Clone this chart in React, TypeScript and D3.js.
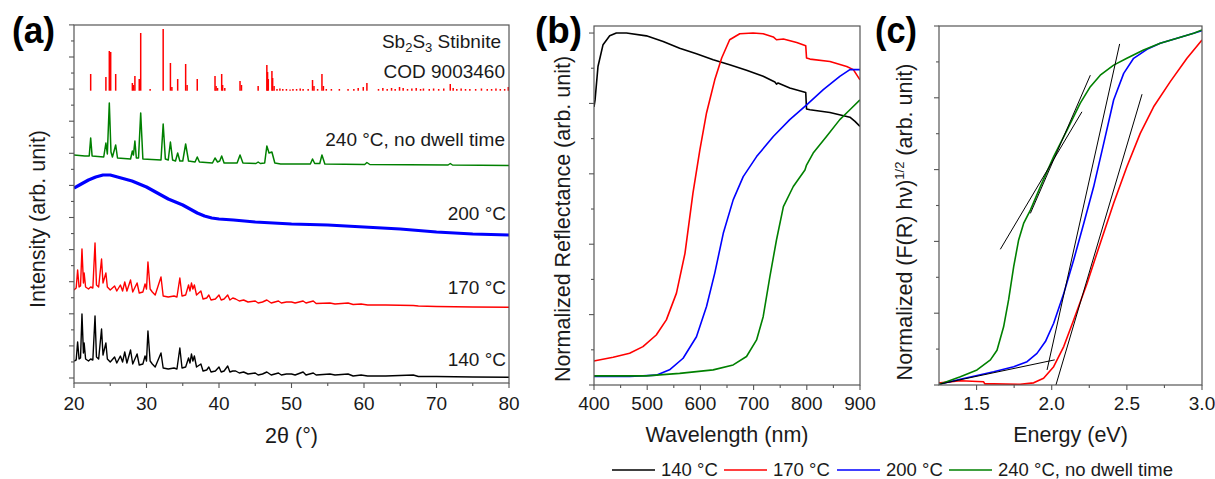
import React from "react";
import * as d3 from "d3";

const FONT = "'Liberation Sans', Arial, Helvetica, sans-serif";
const TXT = "#1a1a1a";
const AXC = "#555";

// ---------- Series meta ----------
const seriesNames = ["140 °C", "170 °C", "200 °C", "240 °C, no dwell time"];
const seriesColors = ["#000000", "#ff0000", "#0000ff", "#008000"];

// ---------- Panel (a): XRD (2θ in °, stacked intensity in arb. units) ----------
const xrd140: [number, number][] = [
  [20.0, 22], [20.3, 23], [20.5, 41], [20.7, 24], [20.9, 25], [21.1, 69], [21.3, 30], [21.4, 40], [21.6, 24],
  [22.0, 22], [22.3, 24], [22.6, 23], [22.9, 67], [23.1, 26], [23.4, 24], [23.8, 54], [24.0, 28], [24.4, 40],
  [24.6, 24], [25.0, 21], [25.6, 26], [25.9, 20], [26.4, 27], [26.7, 21], [27.0, 31], [27.3, 20], [27.8, 33],
  [28.1, 19], [28.7, 29], [29.0, 18], [29.5, 19], [29.8, 27], [30.0, 22], [30.2, 52], [30.5, 22], [30.8, 19],
  [31.2, 16], [32.0, 30], [32.3, 15], [33.0, 14], [33.8, 15], [34.2, 14], [34.6, 35], [34.9, 15], [35.4, 16],
  [35.8, 25], [36.0, 20], [36.2, 29], [36.4, 22], [36.6, 27], [36.9, 16], [37.5, 19], [37.8, 12], [38.3, 13],
  [38.6, 16], [38.9, 11], [39.5, 12], [40.0, 16], [40.3, 11], [40.7, 12], [41.2, 17], [41.5, 11], [41.9, 12],
  [42.3, 12], [42.8, 10], [43.4, 11], [44.0, 9], [45.0, 10], [45.4, 8], [46.0, 9], [46.6, 11], [47.2, 8],
  [48.2, 10], [48.6, 8], [49.3, 9], [50.0, 9], [50.5, 8], [51.6, 11], [52.0, 8], [53.0, 10], [53.4, 8],
  [55.3, 9], [56.0, 8], [57.8, 9], [58.5, 7], [59.6, 8], [60.5, 7], [63.0, 7], [66.8, 8], [67.5, 6.5],
  [70.0, 6.5], [75.0, 6], [80.0, 5.7],
];

const xrd170: [number, number][] = [
  [20.0, 93], [20.3, 95], [20.5, 113], [20.7, 96], [20.9, 97], [21.1, 134], [21.3, 100], [21.4, 110], [21.6, 96],
  [22.0, 94], [22.3, 96], [22.6, 95], [22.9, 140], [23.1, 98], [23.4, 96], [23.8, 124], [24.0, 100], [24.4, 110],
  [24.6, 96], [25.0, 93], [25.6, 97], [25.9, 92], [26.4, 98], [26.7, 92], [27.0, 101], [27.3, 92], [27.8, 103],
  [28.1, 91], [28.7, 100], [29.0, 90], [29.5, 91], [29.8, 99], [30.0, 94], [30.2, 121], [30.5, 94], [30.8, 91],
  [31.2, 88], [32.0, 106], [32.3, 87], [33.0, 86], [33.8, 87], [34.2, 86], [34.6, 105], [34.9, 87], [35.4, 88],
  [35.8, 98], [36.0, 92], [36.2, 100], [36.4, 94], [36.6, 98], [36.9, 88], [37.5, 92], [37.8, 84], [38.3, 85],
  [38.6, 88], [38.9, 83], [39.5, 84], [40.0, 88], [40.3, 83], [40.7, 84], [41.2, 88], [41.5, 83], [41.9, 85],
  [42.3, 84], [42.8, 82], [43.4, 83], [44.0, 81], [45.0, 82], [45.4, 80], [46.0, 81], [46.6, 83], [47.2, 80],
  [48.2, 82], [48.6, 80], [49.3, 81], [50.0, 81], [50.5, 80], [51.6, 82], [52.0, 80], [53.0, 82], [53.4, 79.5],
  [55.3, 80], [56.0, 79], [57.8, 80], [58.5, 78.5], [59.6, 79], [60.5, 78], [63.0, 78], [66.8, 77.5], [67.5, 77],
  [70.0, 76.5], [75.0, 76], [80.0, 75.7],
];

const xrd200: [number, number][] = [
  [20, 195], [21, 199], [22, 203], [23, 206], [24, 208], [25, 208], [26, 206], [27, 204], [28, 202], [29, 199],
  [30, 196], [31, 192], [32, 188], [33, 184], [34, 181], [35, 178], [36, 174], [37, 170], [38, 167], [39, 165],
  [40, 164], [42, 163], [45, 161], [50, 159], [55, 158], [60, 156], [65, 154], [70, 151], [75, 149], [80, 148],
];

const xrd240: [number, number][] = [
  [20.0, 228], [21.5, 227], [22.1, 227], [22.3, 245], [22.5, 227], [24.1, 226], [24.4, 240], [24.6, 229],
  [24.87, 280], [25.1, 231], [25.3, 226], [25.75, 238], [26.0, 225], [27.8, 224], [28.05, 232], [28.2, 228],
  [28.4, 242], [28.6, 225], [28.9, 225], [29.2, 270], [29.5, 224], [32.0, 223], [32.3, 259], [32.6, 224],
  [33.0, 223], [33.3, 241], [33.6, 223], [34.0, 222], [34.3, 230], [34.6, 222], [35.0, 222], [35.4, 239],
  [35.8, 222], [36.7, 221], [37.0, 226], [37.3, 221], [39.1, 220], [39.45, 225], [39.8, 221], [40.1, 222],
  [40.37, 227], [40.7, 220], [42.5, 220], [42.9, 228], [43.3, 220], [45.1, 219.5], [45.4, 221], [45.7, 219.5],
  [46.3, 220], [46.6, 237], [46.9, 230], [47.3, 231], [47.7, 220], [48.5, 219], [52.6, 219], [52.9, 224],
  [53.2, 219.5], [53.9, 219.5], [54.2, 228], [54.6, 219], [60.1, 218.5], [60.4, 220.5], [60.8, 218.5],
  [71.6, 218], [71.9, 219.5], [72.2, 218], [80.0, 217.5],
];

// Reference pattern Sb2S3 stibnite, COD 9003460: [2θ, top of stick]
const codBase = 292.3;
const codSticks: [number, number][] = [
  [22.3, 309], [24.4, 306], [24.87, 332], [25.06, 331], [25.75, 309], [28.05, 300], [28.2, 298], [28.4, 307],
  [29.0, 304], [29.2, 350], [30.5, 294], [32.3, 354], [33.3, 320], [33.5, 296], [34.3, 304], [35.4, 319],
  [35.6, 298], [37.0, 304], [39.45, 307], [39.6, 297], [39.8, 295], [40.37, 309], [40.5, 298], [40.8, 295],
  [42.9, 302], [43.1, 298], [45.4, 297], [46.6, 318], [46.7, 311], [46.8, 304], [47.3, 312], [47.4, 305],
  [47.6, 297], [48.0, 294], [48.4, 294.5], [48.8, 294], [49.3, 294], [49.8, 293.5], [50.2, 294], [50.7, 294],
  [51.2, 294.5], [51.6, 294], [52.3, 294], [52.9, 303], [53.1, 297], [53.6, 294], [54.2, 309], [54.4, 297],
  [54.8, 294], [55.5, 294], [56.6, 294], [57.8, 294], [58.6, 294], [59.2, 295], [59.9, 296], [60.4, 300],
  [62.0, 294], [62.6, 295], [63.2, 294], [63.8, 295], [64.3, 294], [64.9, 296], [65.4, 295], [66.0, 294],
  [66.6, 294.5], [67.2, 295], [67.8, 294], [68.2, 294.5], [69.0, 294], [69.6, 294.5], [70.3, 294], [71.0, 294.5],
  [71.9, 299], [72.3, 295], [72.8, 294], [73.4, 294.5], [74.0, 294], [74.6, 294], [75.4, 294], [76.2, 294.5],
  [77.0, 294], [77.6, 294], [78.2, 294.5], [78.8, 294], [79.4, 294], [79.9, 296],
];

const xrdXTicks = [20, 30, 40, 50, 60, 70, 80];
const xrdXMinor = [25, 35, 45, 55, 65, 75];

// ---------- Panel (b): Reflectance ----------
const refl140: [number, number][] = [
  [400, 0.79], [402, 0.81], [407.5, 0.905], [417, 0.967], [429.5, 0.992], [442, 1.0], [461, 1.0], [498.5, 0.992],
  [530, 0.976], [561, 0.957], [592.6, 0.941], [624, 0.924], [655, 0.91], [686.7, 0.894], [718, 0.877],
  [740, 0.861], [743, 0.855], [746, 0.858], [768, 0.844], [798, 0.831], [799.5, 0.784], [806, 0.782],
  [843.5, 0.774], [881, 0.761], [890.6, 0.749], [900, 0.735],
];
const refl170: [number, number][] = [
  [400, 0.068], [402, 0.069], [436, 0.079], [467, 0.09], [492, 0.109], [517, 0.142], [536, 0.185], [555, 0.261],
  [571, 0.374], [586, 0.545], [599, 0.668], [611.5, 0.773], [627, 0.867], [640, 0.929], [655, 0.981],
  [674, 0.998], [699, 1.0], [718, 0.998], [737, 0.989], [743, 0.981], [756, 0.983], [781, 0.973], [798, 0.964],
  [799.5, 0.929], [806, 0.926], [843.5, 0.919], [875, 0.905], [887.5, 0.896], [900, 0.867],
];
const refl200: [number, number][] = [
  [400, 0.024], [467, 0.024], [517, 0.028], [542, 0.043], [567.5, 0.076], [592.6, 0.137], [611.5, 0.223],
  [627, 0.318], [643, 0.431], [661.6, 0.526], [680.5, 0.592], [705.6, 0.649], [737, 0.706], [768, 0.754],
  [799.7, 0.796], [831, 0.839], [862, 0.877], [881, 0.896], [900, 0.896],
];
const refl240: [number, number][] = [
  [400, 0.026], [498, 0.026], [561, 0.033], [624, 0.043], [661.6, 0.057], [686.7, 0.081], [705.6, 0.128],
  [718, 0.194], [730.6, 0.308], [743, 0.412], [756, 0.507], [774.6, 0.564], [796.5, 0.611], [799.5, 0.625],
  [812, 0.659], [837, 0.706], [862, 0.754], [881, 0.782], [900, 0.81],
];
const reflXTicks = [400, 500, 600, 700, 800, 900];
const reflXMinor = [450, 550, 650, 750, 850];
const reflYTicks = [0, 0.2, 0.4, 0.6, 0.8, 1.0];
const reflYMinor = [0.1, 0.3, 0.5, 0.7, 0.9];

// ---------- Panel (c): Tauc plot ----------
const tauc170: [number, number][] = [
  [1.25, 0.006], [1.259, 0.006], [1.392, 0.012], [1.547, 0.009], [1.555, 0.003], [1.614, 0.003], [1.79, 0.002],
  [1.88, 0.006], [1.946, 0.019], [2.013, 0.051], [2.08, 0.107], [2.146, 0.181], [2.235, 0.283], [2.323, 0.395],
  [2.412, 0.506], [2.5, 0.608], [2.589, 0.701], [2.678, 0.775], [2.789, 0.845], [2.9, 0.91], [3.0, 0.961],
];
const tauc200: [number, number][] = [
  [1.25, 0.002], [1.259, 0.003], [1.392, 0.016], [1.614, 0.037], [1.747, 0.051], [1.836, 0.065], [1.902, 0.088],
  [1.958, 0.121], [2.013, 0.172], [2.08, 0.255], [2.146, 0.348], [2.213, 0.45], [2.279, 0.552], [2.346, 0.673],
  [2.412, 0.794], [2.479, 0.868], [2.545, 0.91], [2.634, 0.935], [2.722, 0.952], [2.834, 0.966], [3.0, 0.987],
];
const tauc240: [number, number][] = [
  [1.25, 0.002], [1.259, 0.003], [1.392, 0.023], [1.503, 0.042], [1.592, 0.07], [1.636, 0.097], [1.68, 0.162],
  [1.713, 0.237], [1.747, 0.33], [1.78, 0.404], [1.813, 0.45], [1.858, 0.487], [1.924, 0.552], [2.013, 0.636],
  [2.102, 0.71], [2.19, 0.785], [2.257, 0.831], [2.323, 0.863], [2.412, 0.891], [2.5, 0.91], [2.611, 0.933],
  [2.722, 0.952], [2.834, 0.966], [2.945, 0.98], [3.0, 0.989],
];
const taucTangents: [number, number][][] = [
  [[1.658, 0.378], [2.201, 0.761]],
  [[1.858, 0.478], [2.257, 0.863]],
  [[1.26, 0.003], [2.02, 0.07]],
  [[1.969, 0.042], [2.452, 0.95]],
  [[2.028, 0.0], [2.601, 0.81]],
];
const taucXTicks = [1.5, 2.0, 2.5, 3.0];
const taucXMinor = [1.75, 2.25, 2.75];
const taucYTicks = [0, 0.2, 0.4, 0.6, 0.8, 1.0];
const taucYMinor = [0.1, 0.3, 0.5, 0.7, 0.9];

// ---------- Layout ----------
const W = 1215;
const H = 479;
const PA = { l: 74, r: 509, t: 25, b: 383 };
const PB = { l: 594, r: 860, t: 26, b: 385 };
const PC = { l: 939, r: 1202, t: 26, b: 385 };

type Box = { l: number; r: number; t: number; b: number };

function Frame({
  box, x, y, xt, xm, yt, ym, fmt,
}: {
  box: Box; x: any; y: any; xt: number[]; xm: number[]; yt: number[]; ym: number[]; fmt: (v: number) => string;
}) {
  return (
    <g>
      <rect x={box.l} y={box.t} width={box.r - box.l} height={box.b - box.t} fill="none" stroke={AXC} strokeWidth={1.2} />
      {xt.map((v) => (
        <g key={"xt" + v}>
          <line x1={x(v)} x2={x(v)} y1={box.b} y2={box.b + 5} stroke={AXC} strokeWidth={1.1} />
          <text x={x(v)} y={410} textAnchor="middle" fontSize={19} fontFamily={FONT} fill={TXT}>{fmt(v)}</text>
        </g>
      ))}
      {xm.map((v) => (
        <line key={"xm" + v} x1={x(v)} x2={x(v)} y1={box.b} y2={box.b + 3} stroke={AXC} strokeWidth={1.1} />
      ))}
      {yt.map((v) => (
        <line key={"yt" + v} x1={box.l - 5} x2={box.l} y1={y(v)} y2={y(v)} stroke={AXC} strokeWidth={1.1} />
      ))}
      {ym.map((v) => (
        <line key={"ym" + v} x1={box.l - 3} x2={box.l} y1={y(v)} y2={y(v)} stroke={AXC} strokeWidth={1.1} />
      ))}
    </g>
  );
}

export default function App() {
  // Panel a scales
  const xa = d3.scaleLinear().domain([20, 80]).range([PA.l, PA.r]);
  const ya = d3.scaleLinear().domain([0, 358]).range([PA.b, PA.t]);
  const yaTicks = d3.range(0, 12).map((i) => 5 + 32.1 * i);
  const yaMinor = d3.range(0, 11).map((i) => 5 + 32.1 * i + 16.05);
  const la = d3.line<[number, number]>().x((d) => xa(d[0])).y((d) => ya(d[1]));

  // Panel b scales
  const xb = d3.scaleLinear().domain([400, 900]).range([PB.l, PB.r]);
  const yb = d3.scaleLinear().domain([0, 1.02]).range([PB.b, PB.t]);
  const lb = d3.line<[number, number]>().x((d) => xb(d[0])).y((d) => yb(d[1]));

  // Panel c scales
  const xc = d3.scaleLinear().domain([1.25, 3.0]).range([PC.l, PC.r]);
  const yc = d3.scaleLinear().domain([0, 1]).range([PC.b, PC.t]);
  const lc = d3.line<[number, number]>().x((d) => xc(d[0])).y((d) => yc(d[1]));

  const reflSeries = [refl140, refl170, refl200, refl240];
  const taucSeries: [number, [number, number][]][] = [[1, tauc170], [2, tauc200], [3, tauc240]];

  const legendX = [612, 724, 837, 949];

  return (
    <svg width={W} height={H} style={{ position: "absolute", left: 0, top: 0, background: "#fff" }}>
      <defs>
        <clipPath id="clipA"><rect x={PA.l} y={PA.t} width={PA.r - PA.l} height={PA.b - PA.t} /></clipPath>
        <clipPath id="clipB"><rect x={PB.l} y={PB.t} width={PB.r - PB.l} height={PB.b - PB.t} /></clipPath>
        <clipPath id="clipC"><rect x={PC.l} y={PC.t} width={PC.r - PC.l} height={PC.b - PC.t} /></clipPath>
      </defs>
      <rect x={0} y={0} width={W} height={H} fill="#fff" />

      {/* ---------- Panel (a) ---------- */}
      <g clipPath="url(#clipA)">
        {codSticks.map((d, i) => (
          <line key={"st" + i} x1={xa(d[0])} x2={xa(d[0])} y1={ya(codBase)} y2={ya(d[1])} stroke="#ff0000" strokeWidth={1.5} />
        ))}
        <path d={la(xrd240) || ""} fill="none" stroke={seriesColors[3]} strokeWidth={1.5} strokeLinejoin="round" />
        <path d={la(xrd200) || ""} fill="none" stroke={seriesColors[2]} strokeWidth={3.2} strokeLinejoin="round" />
        <path d={la(xrd170) || ""} fill="none" stroke={seriesColors[1]} strokeWidth={1.4} strokeLinejoin="round" />
        <path d={la(xrd140) || ""} fill="none" stroke={seriesColors[0]} strokeWidth={1.4} strokeLinejoin="round" />
      </g>
      <Frame box={PA} x={xa} y={ya} xt={xrdXTicks} xm={xrdXMinor} yt={yaTicks} ym={yaMinor} fmt={(v) => String(v)} />
      <g fontFamily={FONT} fontSize={19} fill={TXT} textAnchor="end">
        <text x={501} y={48}>
          Sb<tspan dy={4} fontSize={13}>2</tspan><tspan dy={-4}>S</tspan><tspan dy={4} fontSize={13}>3</tspan><tspan dy={-4}> Stibnite</tspan>
        </text>
        <text x={505} y={78}>COD 9003460</text>
        <text x={505} y={146}>{seriesNames[3]}</text>
        <text x={506} y={220}>{seriesNames[2]}</text>
        <text x={506} y={294}>{seriesNames[1]}</text>
        <text x={506} y={366}>{seriesNames[0]}</text>
      </g>
      <text x={(PA.l + PA.r) / 2} y={443} textAnchor="middle" fontSize={21.5} fontFamily={FONT} fill={TXT}>2θ (°)</text>
      <text transform={`translate(45,219) rotate(-90)`} textAnchor="middle" fontSize={21.5} fontFamily={FONT} fill={TXT}>Intensity (arb. unit)</text>
      <text x={12} y={43} fontSize={36} fontWeight="bold" fontFamily={FONT} fill="#000" textLength={43} lengthAdjust="spacingAndGlyphs">(a)</text>

      {/* ---------- Panel (b) ---------- */}
      <g clipPath="url(#clipB)">
        {reflSeries.map((s, i) => (
          <path key={"rb" + i} d={lb(s) || ""} fill="none" stroke={seriesColors[i]} strokeWidth={1.6} strokeLinejoin="round" />
        ))}
      </g>
      <Frame box={PB} x={xb} y={yb} xt={reflXTicks} xm={reflXMinor} yt={reflYTicks} ym={reflYMinor} fmt={(v) => String(v)} />
      <text x={(PB.l + PB.r) / 2} y={442} textAnchor="middle" fontSize={21.5} fontFamily={FONT} fill={TXT}>Wavelength (nm)</text>
      <text transform={`translate(570,219) rotate(-90)`} textAnchor="middle" fontSize={21.5} fontFamily={FONT} fill={TXT}>Normalized Reflectance (arb. unit)</text>
      <text x={535} y={43} fontSize={36} fontWeight="bold" fontFamily={FONT} fill="#000" textLength={47} lengthAdjust="spacingAndGlyphs">(b)</text>

      {/* ---------- Panel (c) ---------- */}
      <g clipPath="url(#clipC)">
        {taucSeries.map(([ci, s]) => (
          <path key={"tc" + ci} d={lc(s) || ""} fill="none" stroke={seriesColors[ci]} strokeWidth={1.6} strokeLinejoin="round" />
        ))}
        {taucTangents.map((s, i) => (
          <path key={"tg" + i} d={lc(s) || ""} fill="none" stroke="#000" strokeWidth={1} />
        ))}
      </g>
      <Frame box={PC} x={xc} y={yc} xt={taucXTicks} xm={taucXMinor} yt={taucYTicks} ym={taucYMinor} fmt={(v) => v.toFixed(1)} />
      <text x={(PC.l + PC.r) / 2} y={442} textAnchor="middle" fontSize={21.5} fontFamily={FONT} fill={TXT}>Energy (eV)</text>
      <text transform={`translate(912,222) rotate(-90)`} textAnchor="middle" fontSize={21.5} fontFamily={FONT} fill={TXT}>
        Normalized (F(R) hν)<tspan dy={-8} fontSize={13}>1/2</tspan><tspan dy={8}> (arb. unit)</tspan>
      </text>
      <text x={875} y={43} fontSize={36} fontWeight="bold" fontFamily={FONT} fill="#000" textLength={42} lengthAdjust="spacingAndGlyphs">(c)</text>

      {/* ---------- Legend ---------- */}
      <g fontFamily={FONT} fontSize={18.5} fill={TXT}>
        {seriesNames.map((n, i) => (
          <g key={"lg" + i}>
            <line x1={legendX[i]} x2={legendX[i] + 43} y1={470} y2={470} stroke={seriesColors[i]} strokeWidth={1.6} />
            <text x={legendX[i] + 49} y={476}>{n}</text>
          </g>
        ))}
      </g>
    </svg>
  );
}
